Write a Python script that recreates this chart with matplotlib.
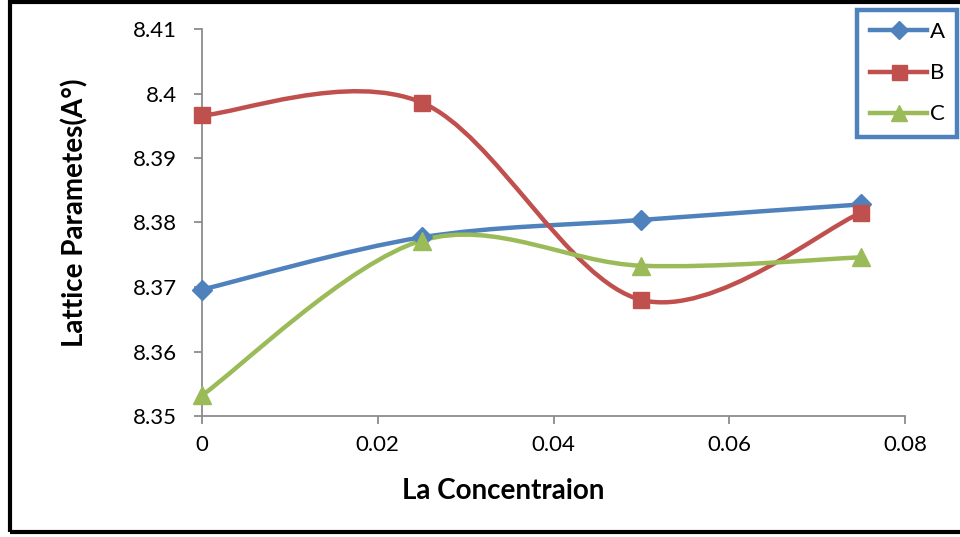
import numpy as np
import matplotlib.pyplot as plt
from matplotlib.path import Path
from matplotlib.patches import PathPatch, Rectangle
from matplotlib.lines import Line2D
from matplotlib.ticker import FuncFormatter

# La concentration and lattice parameters of the three series
conc = [0.0, 0.025, 0.05, 0.075]
series_a = [8.3696, 8.3777, 8.3804, 8.3828]
series_b = [8.3966, 8.3986, 8.3680, 8.3815]
series_c = [8.3532, 8.3772, 8.3733, 8.3746]
names = ['A', 'B', 'C']
colors = ['#4F81BD', '#C0504D', '#9BBB59']
markers = ['D', 's', '^']
msizes = [10, 12, 13]

plt.rcParams['font.family'] = ['Lato', 'DejaVu Sans']


def smooth_path(xs, ys):
    # Catmull-Rom style cubic Bezier through the points, like spreadsheet "smoothed line"
    pts = np.column_stack([xs, ys])
    n = len(pts)
    verts = [pts[0]]
    codes = [Path.MOVETO]
    for i in range(n - 1):
        p0 = pts[i - 1] if i > 0 else pts[i]
        p1 = pts[i]
        p2 = pts[i + 1]
        p3 = pts[i + 2] if i + 2 < n else pts[i + 1]
        c1 = p1 + (p2 - p0) / 6.0
        c2 = p2 - (p3 - p1) / 6.0
        verts += [c1, c2, p2]
        codes += [Path.CURVE4] * 3
    return Path(verts, codes)


fig = plt.figure(figsize=(9.6, 5.37), dpi=100)
ax = fig.add_axes([202 / 960, 1 - 416 / 537, 703 / 960, 387 / 537])

for ys, name, col, mk, ms in zip([series_a, series_b, series_c], names, colors, markers, msizes):
    ax.add_patch(PathPatch(smooth_path(conc, ys), facecolor='none', edgecolor=col,
                           lw=3.2, capstyle='round', zorder=2, clip_on=False))
    ax.plot(conc, ys, ls='none', marker=mk, ms=ms, color=col, mec=col, zorder=3, clip_on=False)

ax.set_xlim(0, 0.08)
ax.set_ylim(8.35, 8.41)
ax.set_xticks([0, 0.02, 0.04, 0.06, 0.08])
ax.set_yticks([8.35, 8.36, 8.37, 8.38, 8.39, 8.40, 8.41])
ax.xaxis.set_major_formatter(FuncFormatter(lambda v, p: '%g' % round(v, 4)))
ax.yaxis.set_major_formatter(FuncFormatter(lambda v, p: '%g' % round(v, 4)))

for s in ['top', 'right']:
    ax.spines[s].set_visible(False)
for s in ['left', 'bottom']:
    ax.spines[s].set_color('#8C8C8C')
    ax.spines[s].set_linewidth(1.3)
ax.tick_params(axis='both', colors='#8C8C8C', labelcolor='black', labelsize=16,
               length=6, width=1.3, direction='out')
ax.tick_params(axis='y', pad=12)
ax.tick_params(axis='x', pad=8)

fig.text(503 / 960, 1 - 491 / 537, 'La Concentraion', ha='center', va='center',
         fontsize=20, fontweight='bold')
fig.text(75 / 960, 1 - 213 / 537, 'Lattice Parametes(A°)', ha='center', va='center',
         rotation=90, fontsize=20, fontweight='bold')

handles = [Line2D([], [], color=c, lw=3.2, marker=m, ms=s * 0.9, mec=c)
           for c, m, s in zip(colors, markers, msizes)]
leg = fig.legend(handles, names, loc='upper right', bbox_to_anchor=(957 / 960, 1 - 10 / 537),
                 fontsize=16, handlelength=2.6, handletextpad=0.1, labelspacing=0.95,
                 borderpad=0.55, fancybox=False, framealpha=1, borderaxespad=0)
leg.get_frame().set_edgecolor('#4F81BD')
leg.get_frame().set_linewidth(3.2)

# outer frame around the chart area
fig.patches.append(Rectangle((10, 5), 980, 530, transform=None, fill=False,
                             edgecolor='black', lw=3))

fig.savefig('out.png', dpi=100)
